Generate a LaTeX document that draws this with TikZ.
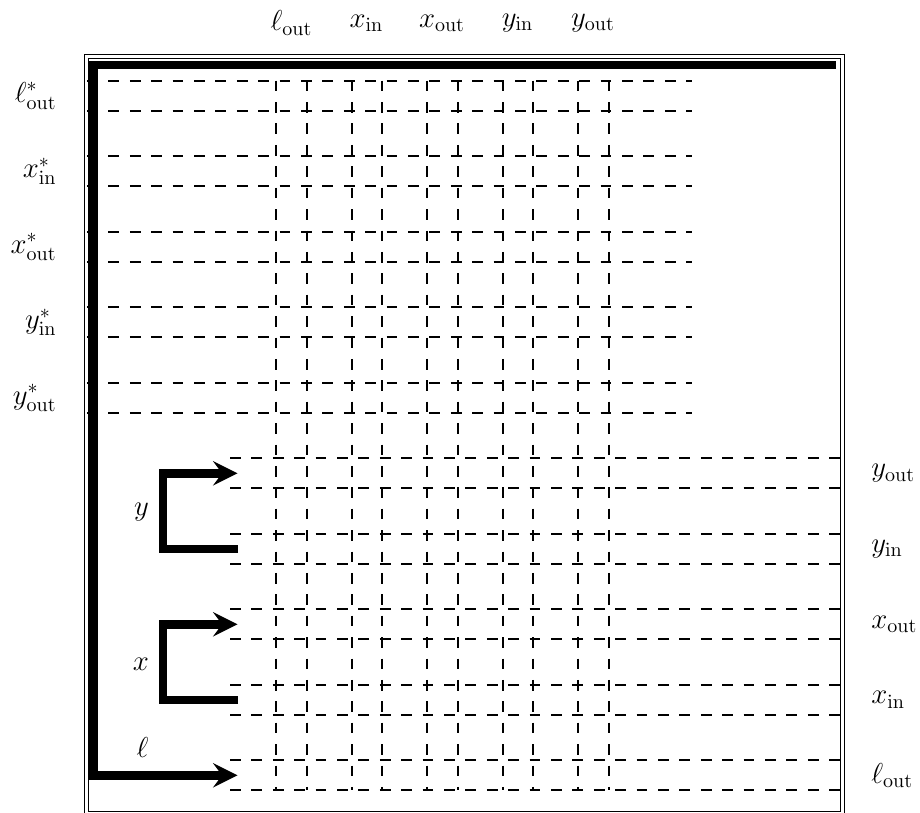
\documentclass[tikz,border=0pt]{standalone}
\begin{document}
\begin{tikzpicture}[x=0.5pt,y=-0.5pt,
  gridline/.style={line width=1pt, dash pattern=on 5.35pt off 5.35pt},
  wirearrow/.style={line width=4.2pt, -stealth},
  frame/.style={double, double distance=1.5pt, line width=0.5pt},
  lab/.style={inner sep=0pt, font=\Large}]
\useasboundingbox (0,0) rectangle (920,813);

% frame
\draw[frame] (86,56.3) rectangle (842.6,813.7);

% vertical dashed columns
\foreach \k in {0,...,4} {
  \pgfmathsetmacro\xa{276.4+75.5*\k}
  \pgfmathsetmacro\xb{\xa+30.2}
  \draw[gridline] (\xa,80.7) -- (\xa,790.4);
  \draw[gridline] (\xb,80.7) -- (\xb,790.4);
}
% upper dashed rows
\foreach \k in {0,...,4} {
  \pgfmathsetmacro\ya{80.7+75.5*\k}
  \pgfmathsetmacro\yb{\ya+30.2}
  \draw[gridline] (87,\ya) -- (692,\ya);
  \draw[gridline] (87,\yb) -- (692,\yb);
}
% lower dashed rows
\foreach \k in {5,...,9} {
  \pgfmathsetmacro\ya{80.7+75.5*\k}
  \pgfmathsetmacro\yb{\ya+30.2}
  \draw[gridline] (230,\ya) -- (842,\ya);
  \draw[gridline] (230,\yb) -- (842,\yb);
}

% thick wires
\coordinate (lstart) at (836,65);
\coordinate (lcorner1) at (93.5,65);
\coordinate (lcorner2) at (93.5,775.3);
\coordinate (lend) at (237.5,775.3);
\draw[wirearrow] (lstart) -- (lcorner1) -- (lcorner2) -- (lend);

\coordinate (ytail) at (238,548.8);
\coordinate (yc1) at (163,548.8);
\coordinate (yc2) at (163,473.3);
\coordinate (yhead) at (237.5,473.3);
\draw[wirearrow] (ytail) -- (yc1) -- (yc2) -- (yhead);

\coordinate (xtail) at (238,699.8);
\coordinate (xc1) at (163,699.8);
\coordinate (xc2) at (163,624.3);
\coordinate (xhead) at (237.5,624.3);
\draw[wirearrow] (xtail) -- (xc1) -- (xc2) -- (xhead);

% wire labels
\node[lab] (ly) at (141.5,512) {$y$};
\node[lab] (lx) at (141,664) {$x$};
\node[lab] (ll) at (142.5,747.5) {$\ell$};

% top labels
\node[lab] (t1) at (291.5,23) {$\ell_{\mathrm{out}}$};
\node[lab] (t2) at (366.5,23) {$x_{\mathrm{in}}$};
\node[lab] (t3) at (442,23) {$x_{\mathrm{out}}$};
\node[lab] (t4) at (517.5,23) {$y_{\mathrm{in}}$};
\node[lab] (t5) at (593,23) {$y_{\mathrm{out}}$};

% left labels
\node[lab,anchor=east] (s1) at (57,95.8) {$\ell^*_{\mathrm{out}}$};
\node[lab,anchor=east] (s2) at (57,171.3) {$x^*_{\mathrm{in}}$};
\node[lab,anchor=east] (s3) at (57,246.8) {$x^*_{\mathrm{out}}$};
\node[lab,anchor=east] (s4) at (57,322.3) {$y^*_{\mathrm{in}}$};
\node[lab,anchor=east] (s5) at (57,397.8) {$y^*_{\mathrm{out}}$};

% right labels
\node[lab,anchor=west] (r1) at (871,473.3) {$y_{\mathrm{out}}$};
\node[lab,anchor=west] (r2) at (871,548.8) {$y_{\mathrm{in}}$};
\node[lab,anchor=west] (r3) at (871,624.3) {$x_{\mathrm{out}}$};
\node[lab,anchor=west] (r4) at (871,699.8) {$x_{\mathrm{in}}$};
\node[lab,anchor=west] (r5) at (871,775.3) {$\ell_{\mathrm{out}}$};
\end{tikzpicture}
\end{document}
